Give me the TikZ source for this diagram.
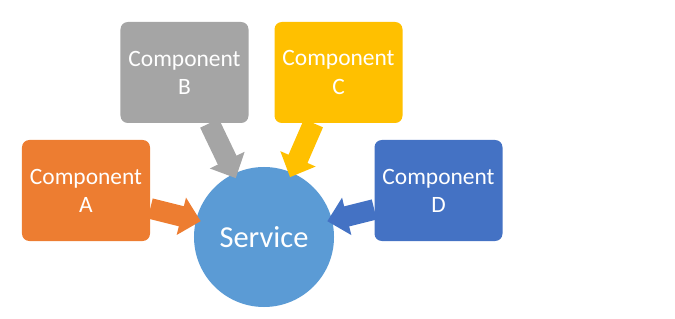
\documentclass[tikz,border=0pt]{standalone}
\usepackage{fontspec}
\setmainfont{Carlito}
\usetikzlibrary{arrows.meta,calc}
\definecolor{accorange}{HTML}{ED7D31}
\definecolor{accgray}{HTML}{A5A5A5}
\definecolor{accgold}{HTML}{FFC000}
\definecolor{accblue}{HTML}{4472C4}
\definecolor{svcblue}{HTML}{5B9BD5}

\begin{document}
\begin{tikzpicture}[x=0.03cm,y=-0.03cm,
  compbox/.style={rectangle,rounded corners=0.22cm,minimum width=3.84cm,minimum height=3.03cm,
    inner sep=0pt,text=white,align=center,font=\fontsize{20}{24}\selectfont},
  svcnode/.style={circle,fill=svcblue,minimum size=4.2cm,inner sep=0pt,text=white,
    font=\fontsize{26}{30}\selectfont},
  blockarrow/.style={line width=0.62cm,-{Triangle[length=0.6cm,width=1.12cm]},shorten >=-0.15cm}]
\useasboundingbox (0,0) rectangle (675,319);
\node[svcnode] (svc) at (264,237) {Service};
\node[compbox,fill=accorange] (compa) at (86,190.5) {Component\\A};
\node[compbox,fill=accgray] (compb) at (184.5,72.5) {Component\\B};
\node[compbox,fill=accgold] (compc) at (338.5,72.5) {Component\\C};
\node[compbox,fill=accblue] (compd) at (438.5,190.5) {Component\\D};
\draw[blockarrow,accorange] ($(compa.east)+(0,18)$) -- (svc);
\draw[blockarrow,accgray] ($(compb.south)+(25,0)$) -- (svc);
\draw[blockarrow,accgold] ($(compc.south)+(-25,0)$) -- (svc);
\draw[blockarrow,accblue] ($(compd.west)+(0,19)$) -- (svc);
\end{tikzpicture}
\end{document}
